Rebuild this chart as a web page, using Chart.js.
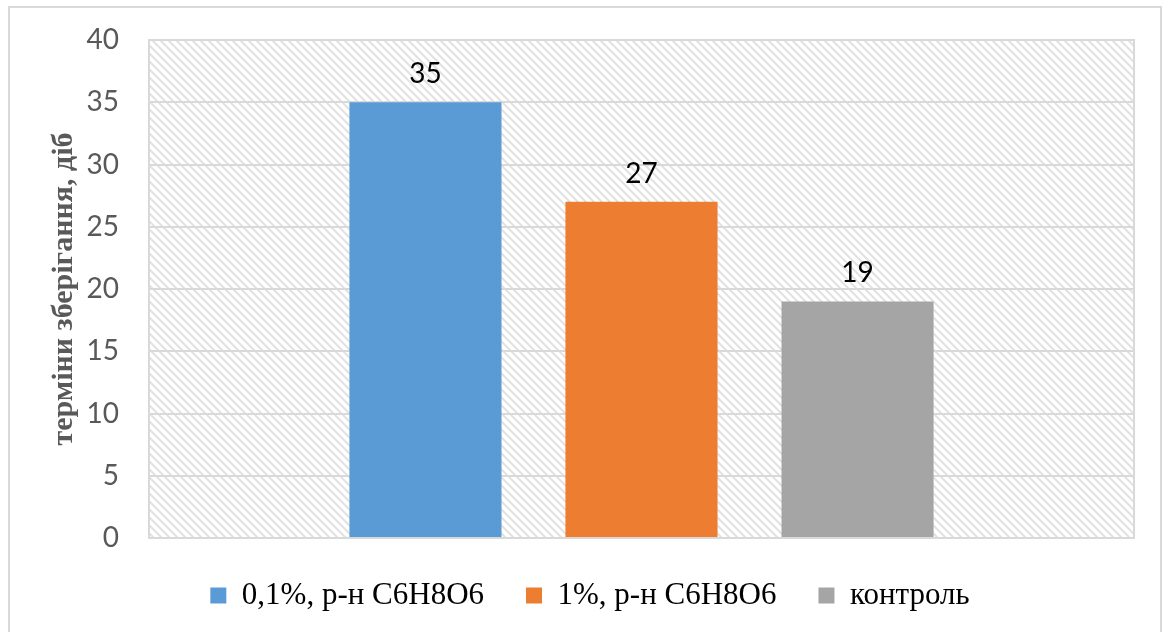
<!DOCTYPE html>
<html>
<head>
<meta charset="utf-8">
<script src="https://cdn.jsdelivr.net/npm/chart.js@4.4.1/dist/chart.umd.min.js"></script>
<style>
    html, body { margin: 0; padding: 0; background: #fff; }
    #wrap { width: 1163px; height: 632px; }
</style>
</head>
<body>
<div id="wrap"><canvas id="storageChart" width="1163" height="632"></canvas></div>
<script>
// Storage time by treatment
const seriesNames = ['0,1%, р-н С6Н8О6', '1%, р-н С6Н8О6', 'контроль'];
const storageDays = [35, 27, 19];
const yTicks = [0, 5, 10, 15, 20, 25, 30, 35, 40];
const axisTitle = 'терміни зберігання, діб';

const barColors = ['#5B9BD5', '#ED7D31', '#A5A5A5'];

// Diagonal hatch used as the plot background
function makeHatch() {
    let tile = document.createElement('canvas');
    tile.width = 8;
    tile.height = 8;
    let c = tile.getContext('2d');
    c.fillStyle = '#ffffff';
    c.fillRect(0, 0, 8, 8);
    c.strokeStyle = '#e2e2e2';
    c.lineWidth = 2;
    c.beginPath();
    c.moveTo(-2, -2); c.lineTo(10, 10);
    c.moveTo(-2, 6); c.lineTo(2, 10);
    c.moveTo(6, -2); c.lineTo(10, 2);
    c.stroke();
    return tile;
}

const frame = {
    id: 'frame',
    beforeInit(chart) {
        // fixed legend height so the plot ends where it should
        const fit = chart.legend.fit;
        chart.legend.fit = function () {
            fit.call(this);
            this.height = 94;
        };
    },
    beforeDraw(chart) {
        const ctx = chart.ctx;
        const a = chart.chartArea;
        ctx.save();
        ctx.fillStyle = '#fff';
        ctx.fillRect(0, 0, chart.width, chart.height);
        ctx.strokeStyle = '#d9d9d9';
        ctx.lineWidth = 2;
        ctx.strokeRect(9, 7, chart.width - 11, chart.height + 10);
        ctx.fillStyle = ctx.createPattern(makeHatch(), 'repeat');
        ctx.fillRect(a.left, a.top, a.right - a.left, a.bottom - a.top);
        ctx.restore();
    },
    beforeDatasetsDraw(chart) {
        const ctx = chart.ctx;
        const a = chart.chartArea;
        ctx.save();
        ctx.strokeStyle = '#d9d9d9';
        ctx.lineWidth = 2;
        ctx.strokeRect(a.left, a.top, a.right - a.left, a.bottom - a.top);
        ctx.restore();
    },
    afterDatasetsDraw(chart) {
        const ctx = chart.ctx;
        ctx.save();
        ctx.font = '28px Lato';
        ctx.fillStyle = '#000';
        ctx.textAlign = 'center';
        ctx.textBaseline = 'middle';
        chart.data.datasets.forEach((ds, i) => {
            let bar = chart.getDatasetMeta(i).data[0];
            ctx.fillText(ds.data[0], bar.x, bar.y - 28);
        });
        ctx.restore();
    }
};

let datasets = [];
for (let i = 0; i < seriesNames.length; i++) {
    datasets.push({
        label: seriesNames[i],
        data: [storageDays[i]],
        backgroundColor: barColors[i],
        categoryPercentage: 0.658,
        barPercentage: 0.704
    });
}

new Chart(document.getElementById('storageChart'), {
    type: 'bar',
    data: { labels: [''], datasets: datasets },
    plugins: [frame],
    options: {
        responsive: false,
        animation: false,
        layout: { padding: { left: 46, right: 29, top: 40, bottom: 0 } },
        scales: {
            x: { display: false },
            y: {
                min: 0,
                max: 40,
                afterBuildTicks: scale => {
                    scale.ticks = yTicks.map(v => ({ value: v }));
                },
                afterFit: scale => {
                    scale.width = 103;
                    scale.paddingTop = 0;
                    scale.paddingBottom = 0;
                },
                border: { display: false },
                grid: { color: '#d9d9d9', lineWidth: 2, drawTicks: false },
                ticks: {
                    padding: 30,
                    color: '#595959',
                    font: { family: 'Lato', size: 28 }
                },
                title: {
                    display: true,
                    text: axisTitle,
                    color: '#595959',
                    padding: { top: 0, bottom: 0 },
                    font: { family: 'Liberation Serif', size: 30, weight: 'bold' }
                }
            }
        },
        plugins: {
            tooltip: { enabled: false },
            legend: {
                position: 'bottom',
                labels: {
                    boxWidth: 16,
                    boxHeight: 16,
                    padding: 42,
                    color: '#000',
                    font: { family: 'Liberation Serif', size: 31 }
                }
            }
        }
    }
});
</script>
</body>
</html>
